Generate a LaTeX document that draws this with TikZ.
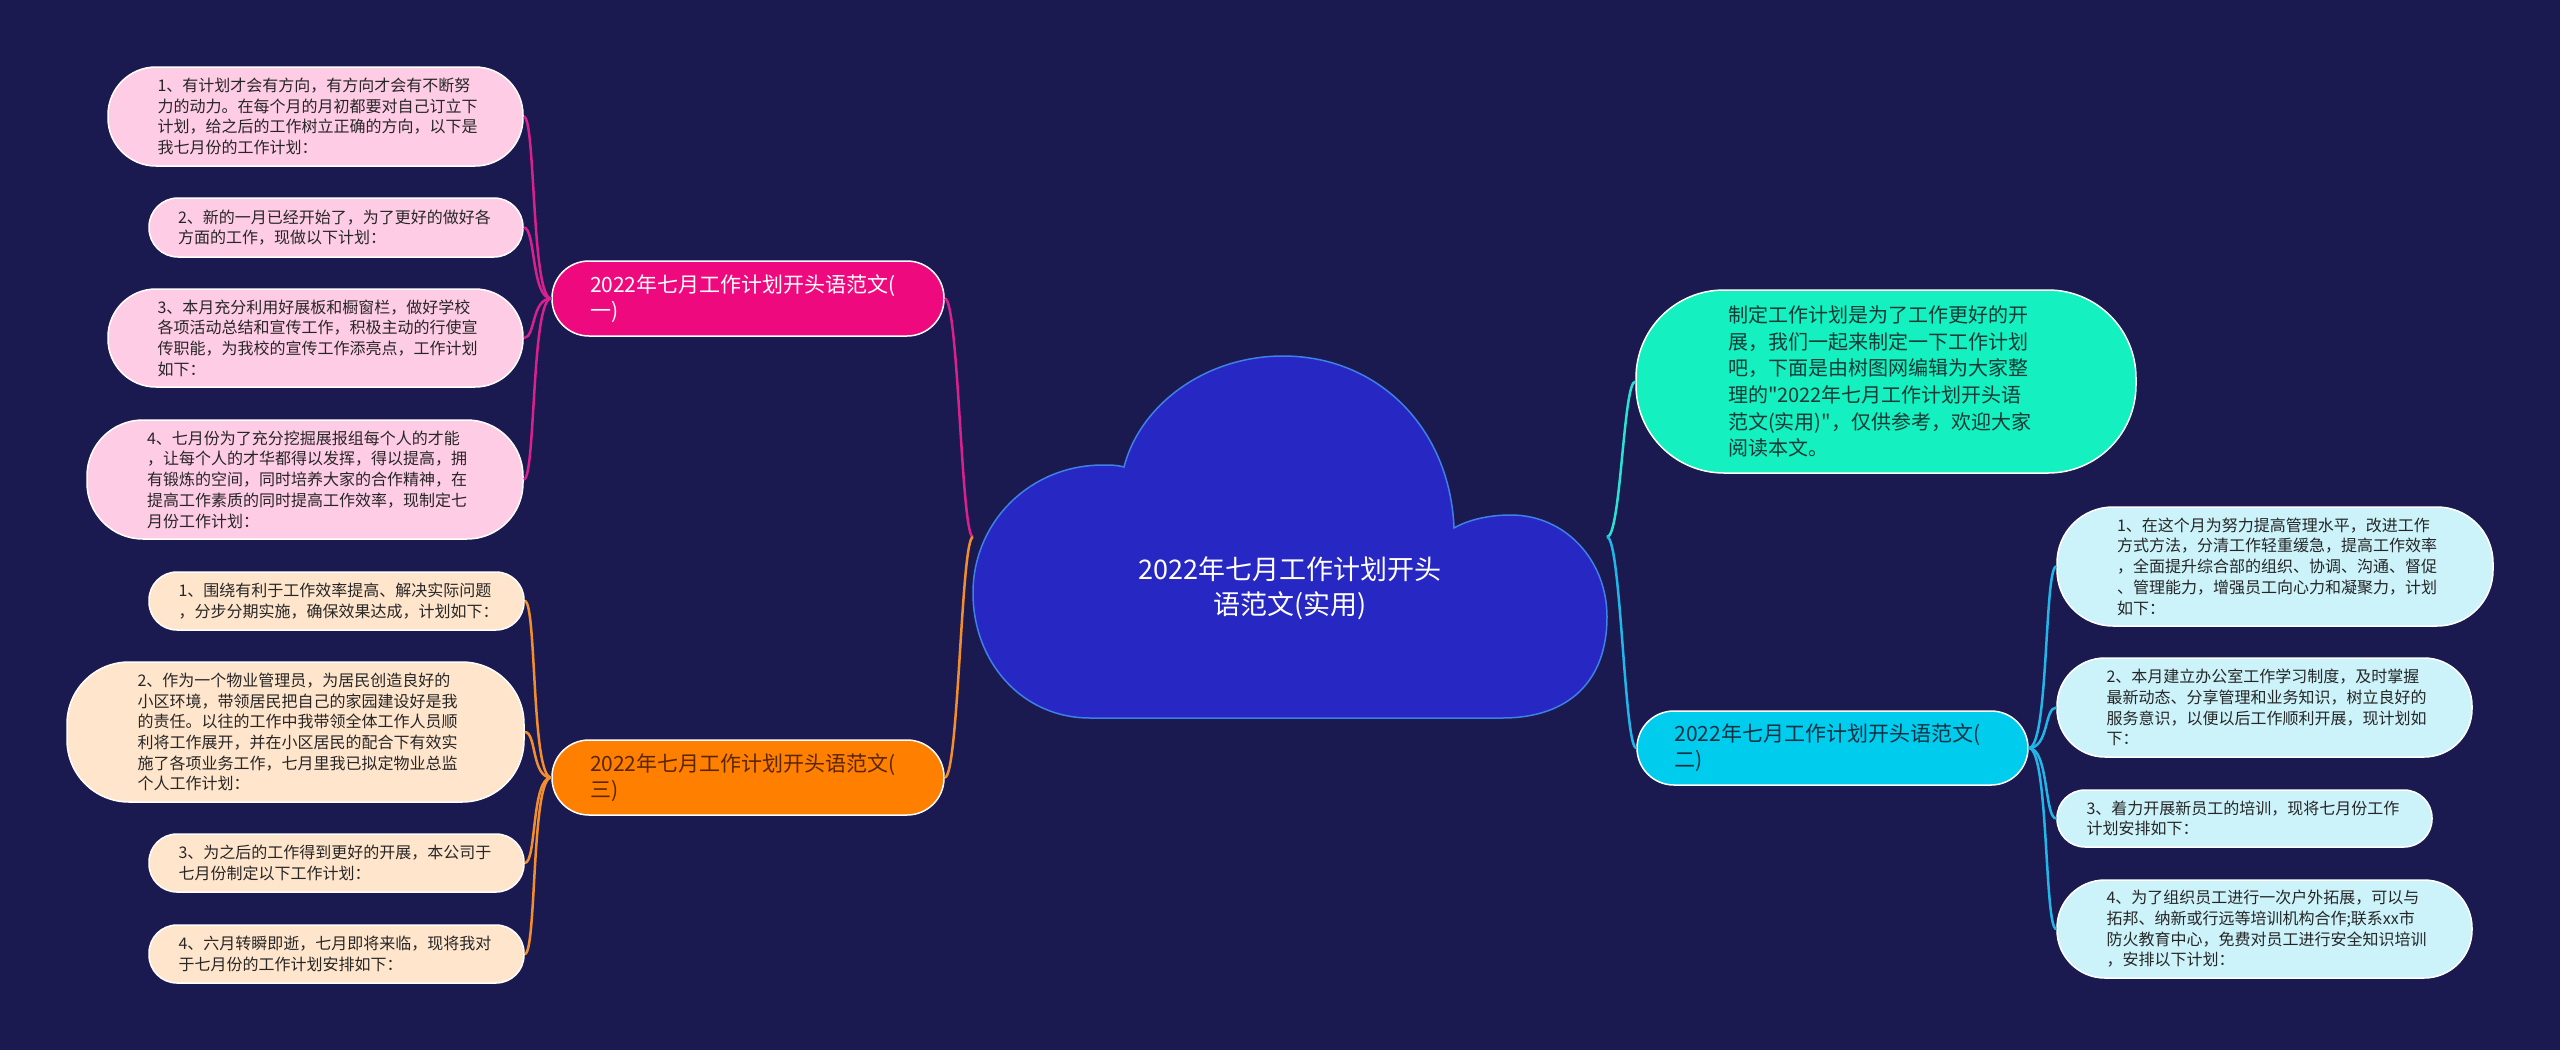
\documentclass[tikz,border=0pt]{standalone}
\usepackage{fontspec}
\newfontfamily\cjk{Noto Sans CJK SC}
\usepackage{tikz}
\usetikzlibrary{calc}

\definecolor{bgnavy}{HTML}{1B1A50}
\definecolor{cloudfill}{HTML}{2727C4}
\definecolor{cloudedge}{HTML}{3F80E8}
\definecolor{pinkbranch}{HTML}{EE0A7E}
\definecolor{pinkleaf}{HTML}{FFCCE6}
\definecolor{pinklink}{HTML}{D8208E}
\definecolor{orangebranch}{HTML}{FF7F00}
\definecolor{orangeleaf}{HTML}{FFE5CC}
\definecolor{orangelink}{HTML}{F28E2E}
\definecolor{orangetext}{HTML}{5A2600}
\definecolor{introfill}{HTML}{14F0C0}
\definecolor{introlink}{HTML}{2AE2D2}
\definecolor{introtext}{HTML}{163A36}
\definecolor{cyanbranch}{HTML}{00CCEE}
\definecolor{cyanleaf}{HTML}{CCF2FA}
\definecolor{cyanlink}{HTML}{22B6E8}
\definecolor{cyantext}{HTML}{0E3242}
\definecolor{leaftext}{HTML}{262626}

\tikzset{
  leaf/.style={draw=white, line width=1.5pt, inner sep=0pt, align=left,
    text width=316pt, font=\cjk\fontsize{16}{20.7}\selectfont},
  leafpink/.style={leaf, fill=pinkleaf, text=leaftext},
  leaforange/.style={leaf, fill=orangeleaf, text=leaftext},
  leafcyan/.style={leaf, fill=cyanleaf, text=leaftext},
  branch/.style={draw=white, line width=1.5pt, inner sep=0pt, align=left,
    text width=316pt, minimum width=392pt, minimum height=75pt,
    rounded corners=37pt, font=\cjk\fontsize{21}{26}\selectfont},
  intro/.style={draw=white, line width=1.5pt, inner sep=0pt, align=left,
    text width=316pt, fill=introfill, text=introtext,
    font=\cjk\fontsize{20}{26.7}\selectfont},
  roottext/.style={align=center, text=white, font=\cjk\fontsize{27}{35}\selectfont},
  link/.style={line width=2.5pt},
}

\begin{document}
\begin{tikzpicture}[x=1pt,y=-1pt]
  %%%%% START %%%%%
  \fill[bgnavy] (0,0) rectangle (2560,1050);

  % cloud
  \draw[fill=cloudfill, draw=cloudedge, line width=1.5pt] (1090,718) -- (1502,718)
    .. controls (1570,718) and (1607,680) .. (1607,617)
    .. controls (1607,560) and (1565,515) .. (1511,515)
    .. controls (1488,515) and (1468,520) .. (1454,528)
    .. controls (1450,428) and (1378,356) .. (1283,356)
    .. controls (1205,356) and (1140,405) .. (1124,467)
    .. controls (1117,465) and (1110,465) .. (1103,465)
    .. controls (1030,465) and (973,522) .. (973,593)
    .. controls (973,662) and (1022,718) .. (1090,718) -- cycle;
  \node[roottext] (root) at (1290,588) {2022年七月工作计划开头\\语范文(实用)};
  \coordinate (lj) at (973,537);
  \coordinate (rj) at (1607,537);

  % branches
  \node[branch, fill=pinkbranch, text=white] (b1) at (748,298.5) {2022年七月工作计划开头语范文(\\一)};
  \node[branch, fill=orangebranch, text=orangetext] (b3) at (748,777.5) {2022年七月工作计划开头语范文(\\三)};
  \node[branch, fill=cyanbranch, text=cyantext, minimum width=391pt, minimum height=74pt] (b2) at (1832.5,748) {2022年七月工作计划开头语范文(\\二)};
  \node[intro, minimum width=500pt, minimum height=183pt, rounded corners=88pt] (intro) at (1886,381.5) {制定工作计划是为了工作更好的开\\展，我们一起来制定一下工作计划\\吧，下面是由树图网编辑为大家整\\理的"2022年七月工作计划开头语\\范文(实用)"，仅供参考，欢迎大家\\阅读本文。};

  % pink leaves
  \node[leafpink, minimum width=415pt, minimum height=99pt, rounded corners=48pt] (p1) at (315.5,116.5) {1、有计划才会有方向，有方向才会有不断努\\力的动力。在每个月的月初都要对自己订立下\\计划，给之后的工作树立正确的方向，以下是\\我七月份的工作计划：};
  \node[leafpink, minimum width=374pt, minimum height=59pt, rounded corners=29pt] (p2) at (336,227.5) {2、新的一月已经开始了，为了更好的做好各\\方面的工作，现做以下计划：};
  \node[leafpink, minimum width=415pt, minimum height=98pt, rounded corners=48pt] (p3) at (315.5,338) {3、本月充分利用好展板和橱窗栏，做好学校\\各项活动总结和宣传工作，积极主动的行使宣\\传职能，为我校的宣传工作添亮点，工作计划\\如下：};
  \node[leafpink, minimum width=436pt, minimum height=119pt, rounded corners=56pt] (p4) at (305,479.5) {4、七月份为了充分挖掘展报组每个人的才能\\，让每个人的才华都得以发挥，得以提高，拥\\有锻炼的空间，同时培养大家的合作精神，在\\提高工作素质的同时提高工作效率，现制定七\\月份工作计划：};

  % orange leaves
  \node[leaforange, minimum width=375pt, minimum height=58pt, rounded corners=28pt] (o1) at (336.5,601) {1、围绕有利于工作效率提高、解决实际问题\\，分步分期实施，确保效果达成，计划如下：};
  \node[leaforange, minimum width=457pt, minimum height=140pt, rounded corners=62pt] (o2) at (295.5,732) {2、作为一个物业管理员，为居民创造良好的\\小区环境，带领居民把自己的家园建设好是我\\的责任。以往的工作中我带领全体工作人员顺\\利将工作展开，并在小区居民的配合下有效实\\施了各项业务工作，七月里我已拟定物业总监\\个人工作计划：};
  \node[leaforange, minimum width=375pt, minimum height=58pt, rounded corners=28pt] (o3) at (336.5,863) {3、为之后的工作得到更好的开展，本公司于\\七月份制定以下工作计划：};
  \node[leaforange, minimum width=375pt, minimum height=58pt, rounded corners=28pt] (o4) at (336.5,954) {4、六月转瞬即逝，七月即将来临，现将我对\\于七月份的工作计划安排如下：};

  % cyan leaves
  \node[leafcyan, minimum width=436pt, minimum height=119pt, rounded corners=56pt] (c1) at (2275,566.5) {1、在这个月为努力提高管理水平，改进工作\\方式方法，分清工作轻重缓急，提高工作效率\\，全面提升综合部的组织、协调、沟通、督促\\、管理能力，增强员工向心力和凝聚力，计划\\如下：};
  \node[leafcyan, minimum width=415pt, minimum height=99pt, rounded corners=48pt] (c2) at (2264.5,707.5) {2、本月建立办公室工作学习制度，及时掌握\\最新动态、分享管理和业务知识，树立良好的\\服务意识，以便以后工作顺利开展，现计划如\\下：};
  \node[leafcyan, minimum width=375pt, minimum height=57pt, rounded corners=28pt] (c3) at (2244.5,818.5) {3、着力开展新员工的培训，现将七月份工作\\计划安排如下：};
  \node[leafcyan, minimum width=415pt, minimum height=98pt, rounded corners=48pt] (c4) at (2264.5,929) {4、为了组织员工进行一次户外拓展，可以与\\拓邦、纳新或行远等培训机构合作;联系xx市\\防火教育中心，免费对员工进行安全知识培训\\，安排以下计划：};

  % links from the cloud
  \draw[link, pinklink] (lj) .. controls +(-12,0) and +(14,0) .. (b1.east);
  \draw[link, orangelink] (lj) .. controls +(-12,0) and +(14,0) .. (b3.east);
  \draw[link, introlink] (rj) .. controls +(14,0) and +(-12,0) .. (intro.west);
  \draw[link, cyanlink] (rj) .. controls +(14,0) and +(-12,0) .. (b2.west);

  % links to leaves
  \foreach \n in {p1,p2,p3,p4}
    \draw[link, pinklink] (b1.west) .. controls +(-20,0) and +(12,0) .. (\n.east);
  \foreach \n in {o1,o2,o3,o4}
    \draw[link, orangelink] (b3.west) .. controls +(-20,0) and +(12,0) .. (\n.east);
  \foreach \n in {c1,c2,c3,c4}
    \draw[link, cyanlink] (b2.east) .. controls +(20,0) and +(-12,0) .. (\n.west);
  %%%%% END %%%%%
\end{tikzpicture}
\end{document}
